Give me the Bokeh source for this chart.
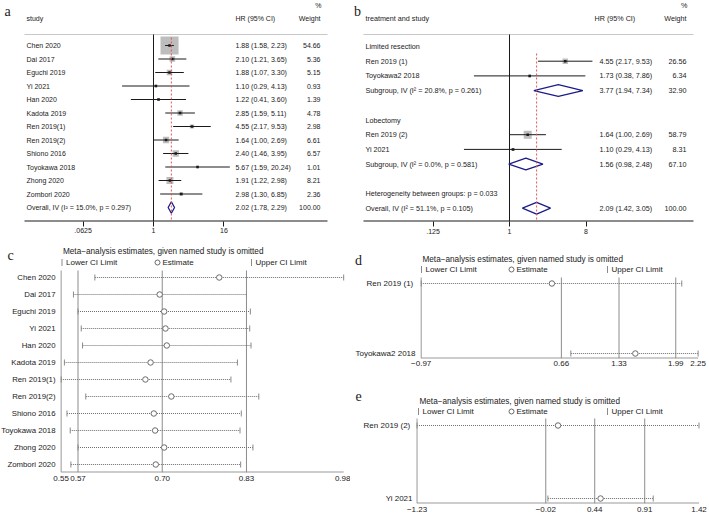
import numpy as np
from bokeh.plotting import figure
from bokeh.models import Range1d, FixedTicker
from bokeh.layouts import row, column
from bokeh.embed import file_html
from bokeh.resources import INLINE
from bokeh.core.properties import value

# ---------------- data ----------------
# panel a: forest plot, all studies
a_study = ["Chen 2020", "Dai 2017", "Eguchi 2019", "Yi 2021", "Han 2020", "Kadota 2019",
           "Ren 2019(1)", "Ren 2019(2)", "Shiono 2016", "Toyokawa 2018", "Zhong 2020", "Zombori 2020"]
a_hr = [1.88, 2.10, 1.88, 1.10, 1.22, 2.85, 4.55, 1.64, 2.40, 5.67, 1.91, 2.98]
a_lo = [1.58, 1.21, 1.07, 0.29, 0.41, 1.59, 2.17, 1.00, 1.46, 1.59, 1.22, 1.30]
a_hi = [2.23, 3.65, 3.30, 4.13, 3.60, 5.11, 9.53, 2.69, 3.95, 20.24, 2.98, 6.85]
a_wt = [54.66, 5.36, 5.15, 0.93, 1.39, 4.78, 2.98, 6.61, 6.57, 1.01, 8.21, 2.36]
a_overall_label = "Overall, IV (I² = 15.0%, p = 0.297)"
a_overall_hr = 2.02
a_overall_lo = 1.78
a_overall_hi = 2.29
a_overall_wt = 100.00
a_ticks = [0.0625, 1, 16]
a_tick_labels = [".0625", "1", "16"]

# panel b: forest plot by treatment
b_groups = ["Limited resection", "Lobectomy"]
b_study = ["Ren 2019  (1)", "Toyokawa2 2018", "Ren 2019  (2)", "Yi 2021"]
b_hr = [4.55, 1.73, 1.64, 1.10]
b_lo = [2.17, 0.38, 1.00, 0.29]
b_hi = [9.53, 7.86, 2.69, 4.13]
b_wt = [26.56, 6.34, 58.79, 8.31]
b_sum_label = ["Subgroup, IV (I² = 20.8%, p = 0.261)", "Subgroup, IV (I² = 0.0%, p = 0.581)",
               "Overall, IV (I² = 51.1%, p = 0.105)"]
b_sum_hr = [3.77, 1.56, 2.09]
b_sum_lo = [1.94, 0.98, 1.42]
b_sum_hi = [7.34, 2.48, 3.05]
b_sum_wt = [32.90, 67.10, 100.00]
b_het = "Heterogeneity between groups: p = 0.033"
b_ticks = [0.125, 1, 8]
b_tick_labels = [".125", "1", "8"]

# panel c: leave-one-out, all studies
c_study = a_study
c_est = [0.788, 0.696, 0.703, 0.705, 0.707, 0.682, 0.674, 0.714, 0.687, 0.689, 0.703, 0.690]
c_lo = [0.596, 0.563, 0.570, 0.575, 0.577, 0.549, 0.544, 0.582, 0.553, 0.558, 0.570, 0.559]
c_hi = [0.980, 0.830, 0.836, 0.835, 0.837, 0.816, 0.806, 0.849, 0.822, 0.820, 0.840, 0.821]
c_overall = [0.57, 0.70, 0.83]
c_tick_labels = ["0.55", "0.57", "0.70", "0.83", "0.98"]

# panel d: leave-one-out, limited resection
d_study = ["Ren 2019  (1)", "Toyokawa2 2018"]
d_est = [0.55, 1.52]
d_lo = [-0.97, 0.77]
d_hi = [2.06, 2.25]
d_overall = [0.66, 1.33, 1.99]
d_tick_labels = ["\u22120.97", "0.66", "1.33", "1.99", "2.25"]

# panel e: leave-one-out, lobectomy
e_study = ["Ren 2019  (2)", "Yi 2021"]
e_est = [0.095, 0.495]
e_lo = [-1.23, 0.00]
e_hi = [1.42, 0.99]
e_overall = [-0.02, 0.44, 0.91]
e_tick_labels = ["\u22121.23", "\u22120.02", "0.44", "0.91", "1.42"]

LOO_TITLE = "Meta\u2212analysis estimates, given named study is omitted"
LEGEND_TEXT = ["Lower CI Limit", "Estimate", "Upper CI Limit"]

# ---------------- style ----------------
SANS = "Liberation Sans"
SERIF = "Liberation Serif"
INK = "#1a1a1a"
BOX = "#bdbdbd"
NAVY = "#1c1c8c"
RED = "#e05555"
LGREY = "#8c8c8c"
AXGREY = "#999999"


def base_fig(width, height, xr, yr, bottom, log=False):
    p = figure(width=width, height=height, output_backend="svg", toolbar_location=None,
               x_axis_type="log" if log else "linear", y_axis_location=None,
               x_range=Range1d(*xr), y_range=Range1d(*yr),
               min_border_left=0, min_border_right=0, min_border_top=0, min_border_bottom=bottom)
    p.xgrid.visible = False
    p.ygrid.visible = False
    p.outline_line_color = None
    p.background_fill_color = "white"
    p.border_fill_color = "white"
    return p


def txt(p, xs, ys, ss, size, align="left", color=INK, font=SANS):
    p.text(x=xs, y=ys, text=ss, text_font=value(font), text_font_size=size,
           text_align=align, text_baseline="middle", text_color=color)


def fmt_ci(h, l, u):
    return f"{h:.2f} ({l:.2f}, {u:.2f})"


def forest(p, rows, hr, lo, hi, wt, box_scale):
    p.scatter(x=hr, y=rows, marker="square", size=[box_scale * np.sqrt(w) for w in wt],
              fill_color=BOX, line_color=None)
    p.segment(x0=lo, x1=hi, y0=rows, y1=rows, line_color=INK, line_width=1)
    p.scatter(x=hr, y=rows, marker="square", size=2.5, fill_color=INK, line_color=None)


def diamonds(p, rows, hr, lo, hi, half):
    xs = [[l, h, u, h] for h, l, u in zip(hr, lo, hi)]
    ys = [[r, r - half, r, r + half] for r in rows]
    p.patches(xs=xs, ys=ys, fill_alpha=0, line_color=NAVY, line_width=1.3)


def style_xaxis(p, ticks, labels, size, tick_out, standoff, tick_color):
    ax = p.xaxis[0]
    ax.ticker = FixedTicker(ticks=ticks)
    ax.major_label_overrides = {t: s for t, s in zip(ticks, labels)}
    ax.axis_line_color = None
    ax.minor_tick_line_color = None
    ax.major_tick_out = tick_out
    ax.major_tick_in = 0
    ax.major_tick_line_color = tick_color
    ax.major_label_text_font = SANS
    ax.major_label_text_font_size = size
    ax.major_label_text_color = INK
    ax.major_label_standoff = standoff


# ---------------- panel a (log2 scale, 17.6 px per doubling, HR=1 at x=153 px) ----------------
def ax_(px):
    return 2 ** ((px - 153) / 17.6)


def ay_(py):
    return (py - 45) / 13.5


fa = base_fig(350, 240, (ax_(0), ax_(350)), (ay_(221), ay_(0)), 19, log=True)
style_xaxis(fa, a_ticks, a_tick_labels, "7px", 5, 1, INK)
a_rows = list(range(len(a_study)))
a_orow = len(a_study)
fa.segment(x0=[ax_(24)], x1=[ax_(327)], y0=[ay_(34)], y1=[ay_(34)], line_color="#c8c8c8", line_width=1)
fa.segment(x0=[ax_(24)], x1=[ax_(327)], y0=[ay_(221)], y1=[ay_(221)], line_color=INK, line_width=2)
fa.segment(x0=[1], x1=[1], y0=[ay_(34)], y1=[ay_(221)], line_color=INK, line_width=1)
forest(fa, a_rows, a_hr, a_lo, a_hi, a_wt, 2.44)
diamonds(fa, [a_orow], [a_overall_hr], [a_overall_lo], [a_overall_hi], 0.43)
fa.segment(x0=[a_overall_hr], x1=[a_overall_hr], y0=[ay_(37)], y1=[ay_(221)],
           line_color=RED, line_width=1, line_dash="2 2")
n_a = len(a_study) + 1
txt(fa, [ax_(26)] * n_a, a_rows + [a_orow], a_study + [a_overall_label], "7px")
txt(fa, [ax_(235)] * n_a, a_rows + [a_orow],
    [fmt_ci(h, l, u) for h, l, u in zip(a_hr, a_lo, a_hi)] +
    [fmt_ci(a_overall_hr, a_overall_lo, a_overall_hi)], "7px")
txt(fa, [ax_(320)] * n_a, a_rows + [a_orow],
    [f"{w:.2f}" for w in a_wt] + [f"{a_overall_wt:.2f}"], "7px", align="right")
txt(fa, [ax_(26), ax_(235)], [ay_(18)] * 2, ["study", "HR (95% CI)"], "7px")
txt(fa, [ax_(320), ax_(321)], [ay_(18), ay_(5)], ["Weight", "%"], "7px", align="right")
txt(fa, [ax_(7)], [ay_(11)], ["a"], "14px", align="center", font=SERIF)


# ---------------- panel b (log2 scale, 25.5 px per doubling, HR=1 at x=509 px) ----------------
def bx_(px):
    return 2 ** ((px - 509) / 25.5)


def by_(py):
    return (py - 46) / 14.7


fb = base_fig(359, 240, (bx_(350), bx_(709)), (by_(221), by_(0)), 19, log=True)
style_xaxis(fb, b_ticks, b_tick_labels, "7px", 5, 2, INK)
b_study_rows = [1, 2, 6, 7]
b_sum_rows = [3, 8, 11]
b_group_rows = [0, 5]
b_het_row = 10
fb.segment(x0=[bx_(363)], x1=[bx_(693)], y0=[by_(34)], y1=[by_(34)], line_color="#c8c8c8", line_width=1)
fb.segment(x0=[bx_(363)], x1=[bx_(693)], y0=[by_(221)], y1=[by_(221)], line_color=INK, line_width=2)
fb.segment(x0=[1], x1=[1], y0=[by_(34)], y1=[by_(221)], line_color=INK, line_width=1)
forest(fb, b_study_rows, b_hr, b_lo, b_hi, b_wt, 1.04)
diamonds(fb, b_sum_rows, b_sum_hr, b_sum_lo, b_sum_hi, 0.40)
fb.segment(x0=[b_sum_hr[-1]], x1=[b_sum_hr[-1]], y0=[by_(53)], y1=[by_(221)],
           line_color=RED, line_width=1, line_dash="2 2")
b_left_rows = b_group_rows + b_study_rows + b_sum_rows + [b_het_row]
txt(fb, [bx_(365)] * len(b_left_rows), b_left_rows, b_groups + b_study + b_sum_label + [b_het], "7.2px")
txt(fb, [bx_(599)] * 7, b_study_rows + b_sum_rows,
    [fmt_ci(h, l, u) for h, l, u in zip(b_hr, b_lo, b_hi)] +
    [fmt_ci(h, l, u) for h, l, u in zip(b_sum_hr, b_sum_lo, b_sum_hi)], "7.2px")
txt(fb, [bx_(686)] * 7, b_study_rows + b_sum_rows,
    [f"{w:.2f}" for w in b_wt] + [f"{w:.2f}" for w in b_sum_wt], "7.2px", align="right")
txt(fb, [bx_(365), bx_(594)], [by_(18)] * 2, ["treatment and study", "HR (95% CI)"], "7.2px")
txt(fb, [bx_(686), bx_(687)], [by_(18), by_(5)], ["Weight", "%"], "7.2px", align="right")
txt(fb, [bx_(357)], [by_(11)], ["b"], "14px", align="center", font=SERIF)


# ---------------- leave-one-out panels ----------------
def loo_panel(width, height, bottom, fx, fy, y_axis, line_top_px, label_px, names, est, lo, hi,
              overall, tick_labels, label_size, title_px, legend_px, letter_px, leg_x_px, standoff):
    """fx / fy convert panel pixel positions to data values (linear scales)."""
    p = base_fig(width, height, (fx(0), fx(width)), (fy(y_axis), fy(0)), bottom)
    x_min, x_max = min(lo), max(hi)
    ticks = [x_min] + list(overall) + [x_max]
    style_xaxis(p, ticks, tick_labels, "8px", 0, standoff, AXGREY)
    rows = list(range(len(names)))
    top, bot = fy(line_top_px), fy(y_axis)
    # axes lines (left and bottom), spanning the data extent
    p.segment(x0=[x_min], x1=[x_min], y0=[top], y1=[bot], line_color=AXGREY, line_width=1)
    p.segment(x0=[x_min], x1=[x_max], y0=[bot], y1=[bot], line_color=AXGREY, line_width=2)
    # reference lines at the pooled estimate and its CI
    p.segment(x0=overall, x1=overall, y0=[top] * len(overall), y1=[bot] * len(overall),
              line_color=LGREY, line_width=1)
    p.segment(x0=lo, x1=hi, y0=rows, y1=rows, line_color="#6e6e6e", line_width=1, line_dash="1 1")
    p.scatter(x=lo + hi, y=rows + rows, marker="dash", angle=np.pi / 2, size=6,
              line_color="#8a8a8a", line_width=1)
    p.scatter(x=est, y=rows, marker="circle", size=5.5, fill_color="white", line_color="#6a6a6a",
              line_width=1)
    # study names
    txt(p, [fx(label_px)] * len(names), rows, names, label_size, align="right")
    # title + legend
    bar1, circ, bar2 = leg_x_px
    txt(p, [fx(bar1 + 1)], [fy(title_px)], [LOO_TITLE], "8.2px")
    ly = fy(legend_px)
    p.scatter(x=[fx(bar1), fx(bar2)], y=[ly, ly], marker="dash", angle=np.pi / 2, size=7,
              line_color="#8a8a8a", line_width=1)
    p.scatter(x=[fx(circ)], y=[ly], marker="circle", size=5, fill_color="white",
              line_color="#6a6a6a", line_width=1)
    txt(p, [fx(bar1 + 4), fx(circ + 5), fx(bar2 + 4)], [ly] * 3, LEGEND_TEXT, "8px")
    txt(p, [fx(letter_px[0])], [fy(letter_px[1])], [letter_px[2]], "14px", align="center", font=SERIF)
    return p


# panel c: 648 px per unit, 0.57 at x=77.5; rows 17 px apart starting at y=277 (panel top at 240)
fc = loo_panel(350, 260, 28,
               lambda px: 0.57 + (px - 77.5) / 648, lambda py: (py + 240 - 277) / 17,
               232, 30, 55, c_study, c_est, c_lo, c_hi, c_overall, c_tick_labels, "7.8px",
               11, 22, (10, 15, "c"), (61.5, 157, 251), 3)

# panel d: 86 px per unit, -0.97 at x=420.7 (panel left at 350); rows 70 px apart from y=283
fd = loo_panel(359, 136, 18,
               lambda px: -0.97 + (px + 350 - 420.7) / 86, lambda py: (py + 240 - 283) / 70,
               118, 37, 65, d_study, d_est, d_lo, d_hi, d_overall, d_tick_labels, "8px",
               19, 29, (8, 20, "d"), (71, 161, 257), 2)

# panel e: 106.4 px per unit, -1.235 at x=416 (panel left at 350); rows 73 px apart from y=425
fe = loo_panel(359, 140, 13,
               lambda px: -1.235 + (px + 350 - 416) / 106.4, lambda py: (py + 376 - 425) / 73,
               127, 42, 62, e_study, e_est, e_lo, e_hi, e_overall, e_tick_labels, "8px",
               25, 35, (8, 19, "e"), (68, 161, 257), 3)

layout = row(column(fa, fc), column(fb, fd, fe))
open("out.html", "w").write(file_html(layout, INLINE))
